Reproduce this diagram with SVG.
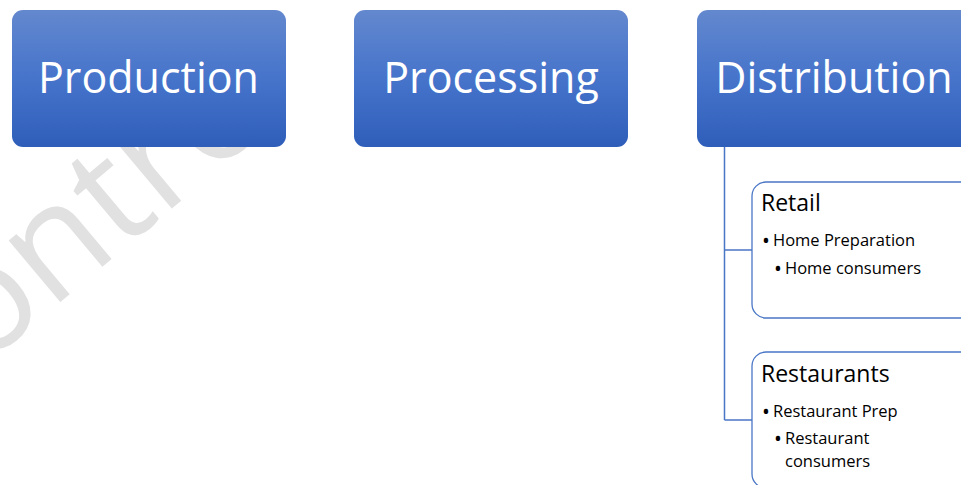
<svg xmlns="http://www.w3.org/2000/svg" width="961" height="485" viewBox="0 0 961 485">
<defs>
<linearGradient id="blueGrad" x1="0" y1="0" x2="0" y2="1">
<stop offset="0" stop-color="#6388ce"/>
<stop offset="0.5" stop-color="#4674cb"/>
<stop offset="1" stop-color="#2f5eba"/>
</linearGradient>
</defs>
<style>
.top{fill:url(#blueGrad);}
.title{font-family:"Open Sans","Noto Sans",sans-serif;font-size:43px;fill:#ffffff;text-anchor:middle;}
.sub{fill:#ffffff;stroke:#4a76c6;stroke-width:1.3;}
.head{font-family:"Open Sans","Noto Sans",sans-serif;font-size:23px;fill:#000000;}
.item{font-family:"Open Sans","Noto Sans",sans-serif;font-size:16.5px;fill:#000000;}
.bul{font-family:"Open Sans","Noto Sans",sans-serif;font-size:21px;fill:#000000;}
.conn{fill:none;stroke:#4a76c6;stroke-width:1.5;}
.wm{font-family:"Open Sans","Noto Sans",sans-serif;font-size:150px;fill:#e1e1e1;}
</style>
<text class="wm" transform="translate(-91,429) rotate(-40)">Contro</text>
<g id="connectors">
<path class="conn" d="M724.5 147 V420 M724.5 250 H752 M724.5 420 H752"/>
</g>
<g id="production">
<rect class="top" x="12" y="10" width="274" height="137" rx="11"/>
<text class="title" x="148.5" y="93">Production</text>
</g>
<g id="processing">
<rect class="top" x="354" y="10" width="274" height="137" rx="11"/>
<text class="title" x="491" y="93">Processing</text>
</g>
<g id="distribution">
<rect class="top" x="697" y="10" width="274" height="137" rx="11"/>
<text class="title" x="834" y="93">Distribution</text>
</g>
<g id="retail">
<rect class="sub" x="752" y="182" width="230" height="136" rx="14"/>
<text class="head" x="761" y="211">Retail</text>
<text class="bul" x="762" y="248">•</text>
<text class="item" x="773" y="246">Home Preparation</text>
<text class="bul" x="774" y="276">•</text>
<text class="item" x="785" y="274">Home consumers</text>
</g>
<g id="restaurants">
<rect class="sub" x="752" y="352" width="230" height="136" rx="14"/>
<text class="head" x="761" y="382">Restaurants</text>
<text class="bul" x="762" y="419">•</text>
<text class="item" x="773" y="417">Restaurant Prep</text>
<text class="bul" x="774" y="446">•</text>
<text class="item" x="785" y="444">Restaurant</text>
<text class="item" x="785" y="467">consumers</text>
</g>
</svg>
